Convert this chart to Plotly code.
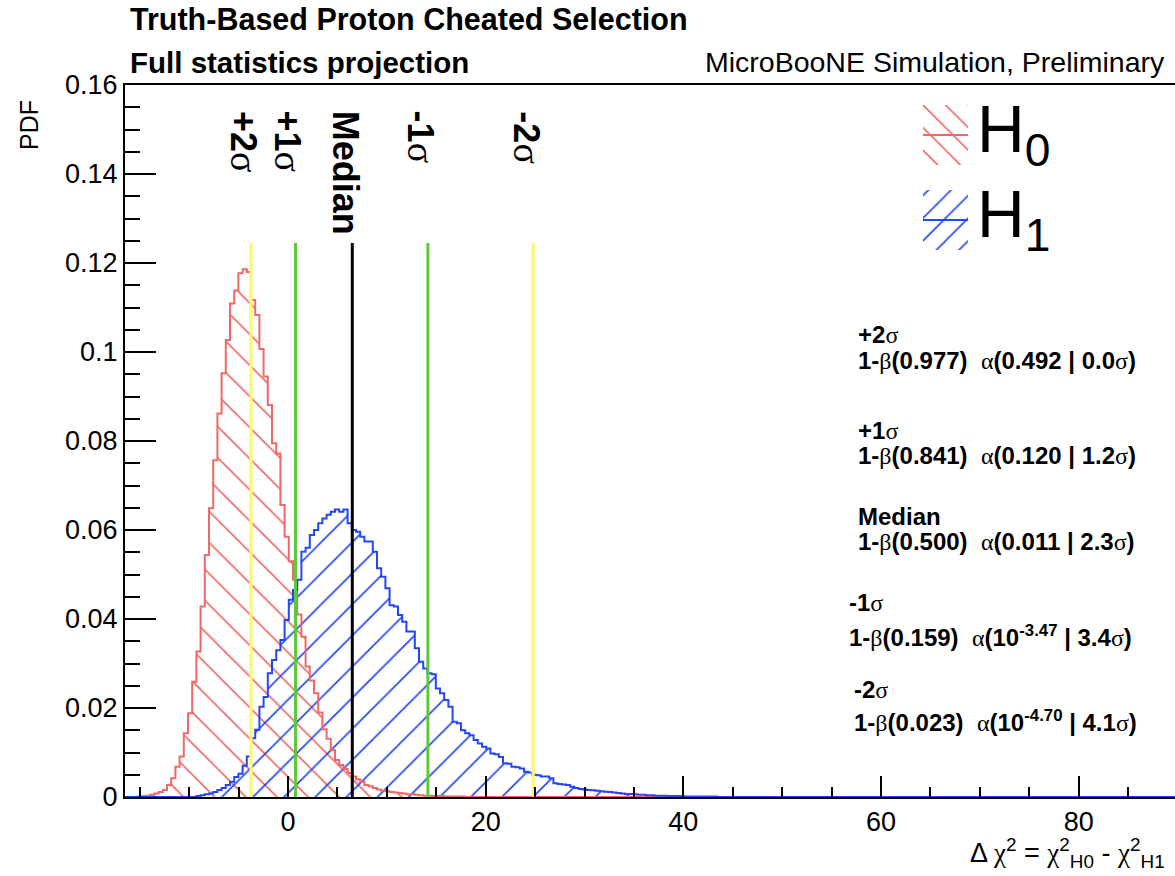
import numpy as np
import plotly.graph_objects as go

# ---------------- data ----------------
x_min, x_max, n_bins = -16.5, 89.75, 250

h0_first_bin = 3
h0_pdf = [0.0001, 0.0002, 0.0003, 0.0005, 0.0008, 0.0011, 0.0016, 0.0027, 0.0042, 0.0068,
          0.0091, 0.0143, 0.0188, 0.0259, 0.0327, 0.0428, 0.0544, 0.0649, 0.0757, 0.0862,
          0.0952, 0.1027, 0.1109, 0.1138, 0.1177, 0.1186, 0.1180, 0.1117, 0.1083, 0.1007,
          0.0945, 0.0881, 0.0795, 0.0772, 0.0656, 0.0585, 0.0530, 0.0488, 0.0410, 0.0360,
          0.0293, 0.0262, 0.0233, 0.0190, 0.0152, 0.0131, 0.0105, 0.0083, 0.0072, 0.0063,
          0.0054, 0.0046, 0.0040, 0.0034, 0.0027, 0.0024, 0.0020, 0.0017, 0.0014, 0.0013,
          0.0011, 0.0010, 0.0009, 0.0008, 0.0006, 0.0006, 0.0005, 0.0004, 0.0003, 0.0003,
          0.0002, 0.0002, 0.0002, 0.0001, 0.0001, 0.0001, 0.0001, 0.0001]

h1_first_bin = 17
h1_pdf = [0.0002, 0.0004, 0.0006, 0.0008, 0.0011, 0.0016, 0.0020, 0.0027, 0.0034, 0.0045,
          0.0052, 0.0070, 0.0091, 0.0132, 0.0151, 0.0203, 0.0225, 0.0278, 0.0308, 0.0330,
          0.0353, 0.0398, 0.0443, 0.0465, 0.0488, 0.0551, 0.0560, 0.0589, 0.0600, 0.0615,
          0.0626, 0.0634, 0.0641, 0.0646, 0.0641, 0.0646, 0.0615, 0.0600, 0.0596, 0.0585,
          0.0574, 0.0574, 0.0551, 0.0514, 0.0495, 0.0469, 0.0431, 0.0428, 0.0409, 0.0394,
          0.0372, 0.0372, 0.0334, 0.0304, 0.0289, 0.0278, 0.0276, 0.0244, 0.0233, 0.0218,
          0.0203, 0.0169, 0.0166, 0.0150, 0.0143, 0.0139, 0.0128, 0.0120, 0.0113, 0.0109,
          0.0098, 0.0096, 0.0090, 0.0076, 0.0075, 0.0068, 0.0067, 0.0064, 0.0057, 0.0055,
          0.0050, 0.0049, 0.0046, 0.0046, 0.0042, 0.0031, 0.0029, 0.0028, 0.0027, 0.0023,
          0.0020, 0.0018, 0.0017, 0.0016, 0.0015, 0.0014, 0.0013, 0.0012, 0.0011, 0.0010,
          0.0009, 0.0008, 0.0007, 0.0007, 0.0006, 0.0005, 0.0005, 0.0004, 0.0004, 0.0003,
          0.0003, 0.0003, 0.0002, 0.0002, 0.0002, 0.0002, 0.0001, 0.0001, 0.0001, 0.0001,
          0.0001, 0.0001, 0.0001, 0.0001]

sigma_names = ["+2", "+1", "Median", "-1", "-2"]
sigma_x = [-3.75, 0.75, 6.50, 14.15, 24.80]
sigma_colors = ["#fbf86a", "#5cc83a", "#000000", "#5cc83a", "#fbf86a"]
sigma_line_top = 0.1245

power_vals = ["0.977", "0.841", "0.500", "0.159", "0.023"]
alpha_vals = ["0.492", "0.120", "0.011", "10^-3.47", "10^-4.70"]
alpha_sig = ["0.0", "1.2", "2.3", "3.4", "4.1"]

y_tick_vals = [0, 0.02, 0.04, 0.06, 0.08, 0.10, 0.12, 0.14, 0.16]
y_tick_text = ["0", "0.02", "0.04", "0.06", "0.08", "0.1", "0.12", "0.14", "0.16"]

# ---------------- style ----------------
W, H = 1175, 876
ML, MR, MT, MB = 125, 0, 85, 79
PW, PH = W - ML - MR, H - MT - MB
SANS = "Liberation Sans, Arial, Helvetica, sans-serif"
SERIF = "Liberation Serif"
RED = "#f06868"
BLUE = "#2447f5"


def px_x(p):
    return (p - ML) / PW


def px_y(p):
    return (H - MB - p) / PH


def g(c, scale=None):
    extra = f";font-size:{scale}px" if scale else ""
    return f"<span style='font-family:{SERIF};font-weight:normal{extra}'>{c}</span>"


bin_w = (x_max - x_min) / n_bins
edges = x_min + bin_w * np.arange(n_bins + 1)
centers = edges[:-1] + bin_w / 2

h0 = np.zeros(n_bins)
h0[h0_first_bin:h0_first_bin + len(h0_pdf)] = h0_pdf
h1 = np.zeros(n_bins)
h1[h1_first_bin:h1_first_bin + len(h1_pdf)] = h1_pdf

fig = go.Figure()

for vals, col, shp in [(h0, RED, "\\"), (h1, BLUE, "/")]:
    fig.add_trace(go.Bar(
        x=centers, y=vals, width=bin_w, opacity=1,
        marker=dict(color="rgba(0,0,0,0)", line=dict(width=0), opacity=1,
                    pattern=dict(shape=shp, fgcolor=col, bgcolor="rgba(0,0,0,0)",
                                 fgopacity=1, fillmode="replace",
                                 size=22, solidity=0.075)),
        showlegend=False, hoverinfo="skip"))

for vals, col in [(h0, RED), (h1, BLUE)]:
    fig.add_trace(go.Scatter(
        x=edges, y=np.append(vals, vals[-1]), mode="lines",
        line=dict(color=col, width=2, shape="hv"),
        showlegend=False, hoverinfo="skip"))

for xv, col in zip(sigma_x, sigma_colors):
    fig.add_trace(go.Scatter(x=[xv, xv], y=[0, sigma_line_top], mode="lines",
                             line=dict(color=col, width=3), showlegend=False,
                             hoverinfo="skip"))

# legend swatches on a small helper axis
leg_base = [85, 0]
for base, col, shp in [(leg_base[0], RED, "\\"), (leg_base[1], BLUE, "/")]:
    fig.add_trace(go.Bar(
        x=[0.5], y=[60], base=[base], width=1, xaxis="x2", yaxis="y2", opacity=1,
        marker=dict(color="rgba(0,0,0,0)", line=dict(width=0), opacity=1,
                    pattern=dict(shape=shp, fgcolor=col, bgcolor="rgba(0,0,0,0)",
                                 fgopacity=1, fillmode="replace",
                                 size=16, solidity=0.1)),
        showlegend=False, hoverinfo="skip"))
    fig.add_trace(go.Scatter(x=[0, 1], y=[base + 30, base + 30], mode="lines",
                             xaxis="x2", yaxis="y2", line=dict(color=col, width=2),
                             showlegend=False, hoverinfo="skip"))

ann = []
# vertical labels
for name, xv in zip(sigma_names, sigma_x):
    txt = name if name == "Median" else name + g("σ", 38)
    ann.append(dict(x=xv, xref="x", y=px_y(109), yref="paper", xanchor="center",
                    yanchor="top", textangle=90, xshift=-7, showarrow=False, text=txt,
                    font=dict(family=SANS, size=36, color="black", weight="bold")))

# right-side text block
head_y = [334, 430, 516, 602, 689]
line_y = [360, 455, 541, 636, 721]
text_x = [856, 856, 856, 847, 852]
for name, p, a, s, hy, ly, tx in zip(sigma_names, power_vals, alpha_vals, alpha_sig,
                                     head_y, line_y, text_x):
    head = name if name == "Median" else name + g("σ")
    if a.startswith("10^"):
        a_txt = "10<sup>" + a[3:] + "</sup>"
    else:
        a_txt = a
    line = ("1-" + g("β") + "(" + p + ")\u00a0\u00a0" + g("α") + "(" + a_txt +
            " | " + s + g("σ") + ")")
    ann.append(dict(x=px_x(tx), y=px_y(hy), xref="paper", yref="paper", xanchor="left",
                    yanchor="middle", showarrow=False, text=head,
                    font=dict(family=SANS, size=24, color="black", weight="bold")))
    ann.append(dict(x=px_x(tx), y=px_y(ly), xref="paper", yref="paper", xanchor="left",
                    yanchor="middle", showarrow=False, text=line,
                    font=dict(family=SANS, size=24, color="black", weight="bold")))

# legend labels
ann.append(dict(x=px_x(975), y=px_y(134), xref="paper", yref="paper", xanchor="left",
                yanchor="middle", showarrow=False, text="H<sub>0</sub>",
                font=dict(family=SANS, size=66, color="black")))
ann.append(dict(x=px_x(975), y=px_y(219), xref="paper", yref="paper", xanchor="left",
                yanchor="middle", showarrow=False, text="H<sub>1</sub>",
                font=dict(family=SANS, size=66, color="black")))

# titles
ann.append(dict(x=px_x(128), y=px_y(19), xref="paper", yref="paper", xanchor="left",
                yanchor="middle", showarrow=False,
                text="Truth-Based Proton Cheated Selection",
                font=dict(family=SANS, size=30.5, color="black", weight="bold")))
ann.append(dict(x=px_x(128), y=px_y(62), xref="paper", yref="paper", xanchor="left",
                yanchor="middle", showarrow=False, text="Full statistics projection",
                font=dict(family=SANS, size=29.5, color="black", weight="bold")))
ann.append(dict(x=px_x(1167), y=px_y(62), xref="paper", yref="paper", xanchor="right",
                yanchor="middle", showarrow=False, text="MicroBooNE Simulation, Preliminary",
                font=dict(family=SANS, size=28.5, color="black")))
# axis titles
ann.append(dict(x=px_x(1167), y=px_y(853), xref="paper", yref="paper", xanchor="right",
                yanchor="middle", showarrow=False,
                text=("Δ " + g("χ") + "<sup>2</sup> = " + g("χ") + "<sup>2</sup><sub>H0</sub> - "
                      + g("χ") + "<sup>2</sup><sub>H1</sub>"),
                font=dict(family=SANS, size=27, color="black")))
ann.append(dict(x=px_x(29), y=px_y(98), xref="paper", yref="paper", xanchor="center",
                yanchor="top", textangle=-90, showarrow=False, text="PDF",
                font=dict(family=SANS, size=25, color="black")))

fig.update_layout(
    width=W, height=H, margin=dict(l=ML, r=MR, t=MT, b=MB),
    paper_bgcolor="white", plot_bgcolor="white", barmode="overlay", bargap=0,
    showlegend=False, annotations=ann,
    xaxis=dict(range=[x_min, x_max], tick0=0, dtick=20, ticks="inside", ticklen=21,
               tickwidth=1.5, tickcolor="black", showline=True, linecolor="black",
               linewidth=2, mirror=True, showgrid=False, zeroline=False,
               tickfont=dict(family=SANS, size=27, color="black"),
               minor=dict(tick0=0, dtick=5, ticks="inside", ticklen=10, tickwidth=1.5,
                          tickcolor="black", showgrid=False)),
    yaxis=dict(range=[0, 0.16], tickmode="array", tickvals=y_tick_vals, ticktext=y_tick_text,
               ticks="inside", ticklen=31, tickwidth=1.5, tickcolor="black",
               showline=True, linecolor="black", linewidth=2, showgrid=False,
               zeroline=False, tickfont=dict(family=SANS, size=27, color="black"),
               minor=dict(tickmode="linear", tick0=0, dtick=0.005, ticks="inside",
                          ticklen=15, tickwidth=1.5, tickcolor="black", showgrid=False)),
    xaxis2=dict(domain=[px_x(923), px_x(968)], range=[0, 1], anchor="y2", visible=False,
                fixedrange=True),
    yaxis2=dict(domain=[px_y(250), px_y(105)], range=[0, 145], anchor="x2", visible=False,
                fixedrange=True),
)

fig.write_html("out.html")
